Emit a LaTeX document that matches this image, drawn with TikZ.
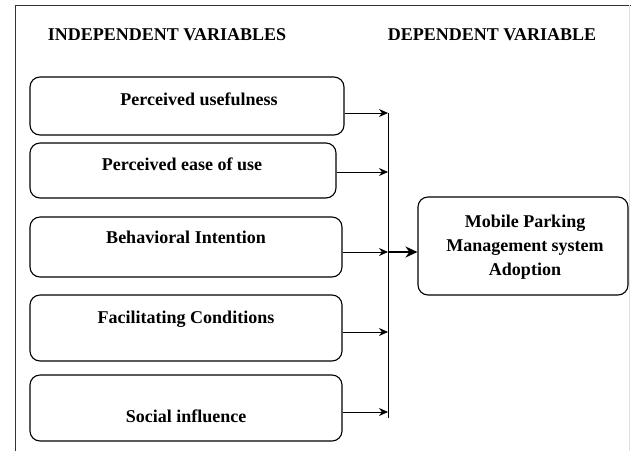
\documentclass[tikz,border=0pt]{standalone}
\usepackage{fontspec}
\setmainfont{Liberation Serif}
\usetikzlibrary{arrows.meta}

\begin{document}
\begin{tikzpicture}[x=1pt,y=-1pt,
  varbox/.style={draw,rounded corners=10pt,line width=1.1pt,inner sep=0pt},
  lbl/.style={font=\fontsize{18}{24}\selectfont\bfseries,align=center,anchor=base,inner sep=0pt},
  link/.style={-{Stealth[length=9pt,width=8pt]},line width=0.9pt}]
\useasboundingbox (0,0) rectangle (631,451);

% frame
\draw[line width=1pt,black!80] (15,451) -- (15,5) -- (631,5);
\draw[line width=0.6pt,black!12] (629,5) -- (629,451);

\node[lbl] (h1) at (167,40) {INDEPENDENT VARIABLES};
\node[lbl] (h2) at (492,40) {DEPENDENT VARIABLE};

\node[varbox,minimum width=314pt,minimum height=58pt] (1) at (187,106) {};
\node[varbox,minimum width=306pt,minimum height=55pt] (2) at (183,170.5) {};
\node[varbox,minimum width=312pt,minimum height=60pt] (3) at (186,247) {};
\node[varbox,minimum width=312pt,minimum height=66pt] (4) at (186,328) {};
\node[varbox,minimum width=312pt,minimum height=66pt] (5) at (186,408) {};
\node[varbox,minimum width=210pt,minimum height=98pt] (6) at (523,246) {};

\node[lbl] (t1) at (199,105) {Perceived usefulness};
\node[lbl] (t2) at (182,170) {Perceived ease of use};
\node[lbl] (t3) at (186,243) {Behavioral Intention};
\node[lbl] (t4) at (186,323) {Facilitating Conditions};
\node[lbl] (t5) at (186,422) {Social influence};
\node[lbl] (t6) at (525,275) {Mobile Parking\\Management system\\Adoption};

% joining line
\coordinate (j1) at (388,113);
\coordinate (j2) at (388,172);
\coordinate (j3) at (388,252);
\coordinate (j4) at (388,332);
\coordinate (j5) at (388,412);
\coordinate (jb) at (388,418);
\draw[line width=0.9pt] (j1) -- (jb);

\draw[link] (1.east |- j1) -- (j1);
\draw[link] (2.east |- j2) -- (j2);
\draw[link] (3.east |- j3) -- (j3);
\draw[link] (4.east |- j4) -- (j4);
\draw[link] (5.east |- j5) -- (j5);

\draw[-{Stealth[length=12pt,width=11pt]},line width=2.6pt] (j3) -- (6.west |- j3);
\end{tikzpicture}
\end{document}
